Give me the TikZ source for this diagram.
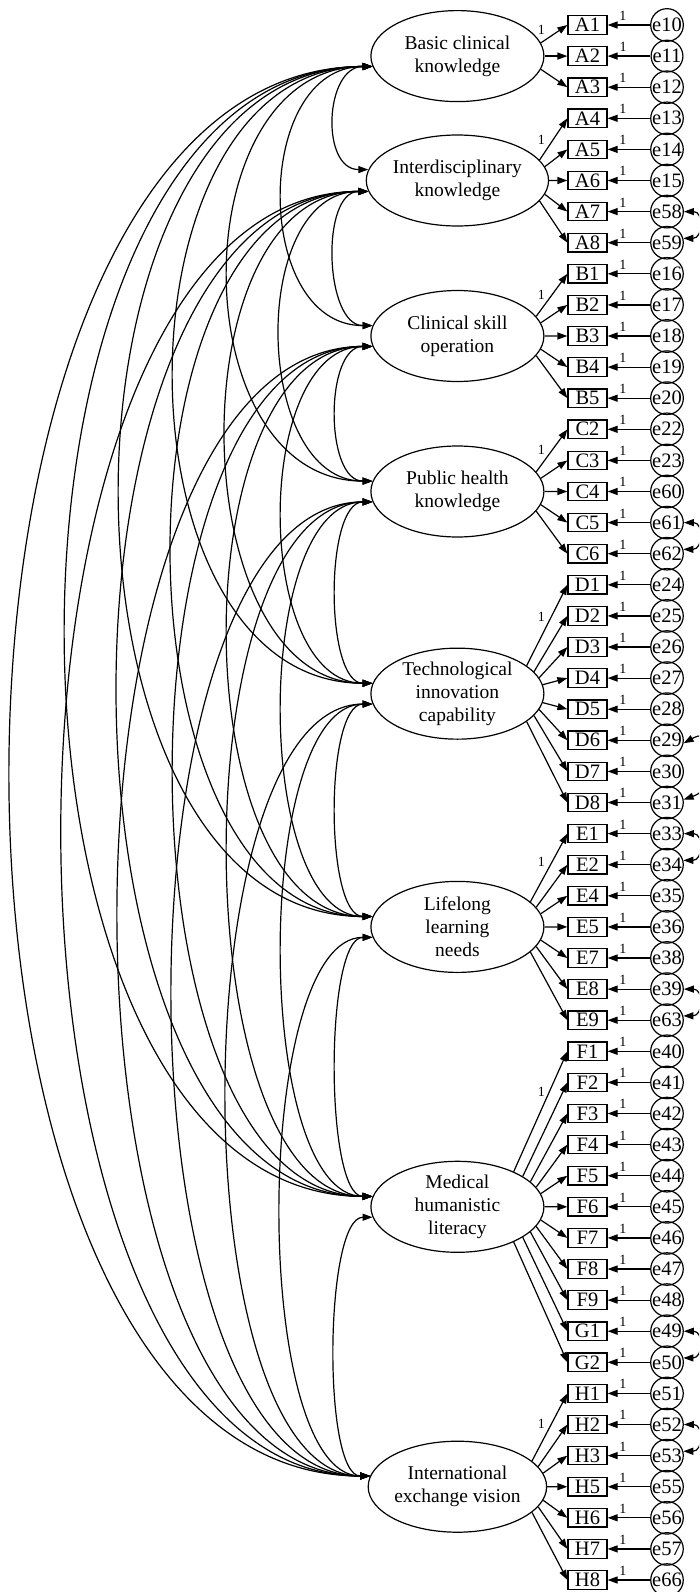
\documentclass[tikz,border=0pt]{standalone}
\usepackage{fontspec}
\setmainfont{Liberation Serif}
\usetikzlibrary{arrows.meta,calc,shapes.geometric}
\begin{document}
\begin{tikzpicture}[x=1pt,y=1pt,
  >={Triangle[length=10pt,width=7pt]},
  lat/.style={draw, ellipse, line width=1.2pt, minimum width=173pt, minimum height=91pt, inner sep=0pt, align=center, font=\fontsize{19.5}{23}\selectfont},
  ind/.style={draw, rectangle, line width=1.2pt, minimum width=39pt, minimum height=18.5pt, inner sep=0pt, font=\fontsize{20.5}{20}\selectfont},
  err/.style={draw, circle, line width=1.2pt, minimum size=30pt, inner sep=0pt, font=\fontsize{20.5}{20}\selectfont},
  load/.style={line width=1.2pt, ->},
  cov/.style={line width=1.2pt, <->},
  lbl/.style={inner sep=0pt, font=\fontsize{14}{14}\selectfont}]
\useasboundingbox (0,0) rectangle (699,-1592);
\clip (0,0) rectangle (699,-1592);

% latent factors
\node[lat] (L1) at (457.4,-56.1)  {Basic clinical\\knowledge};
\node[lat] (L2) at (457.4,-180.5) {Interdisciplinary\\knowledge};
\node[lat] (L3) at (457.4,-336)   {Clinical skill\\operation};
\node[lat] (L4) at (457.4,-491.5) {Public health\\knowledge};
\node[lat] (L5) at (457.4,-693.65){Technological\\innovation\\capability};
\node[lat] (L6) at (457.4,-926.9) {Lifelong\\learning\\needs};
\node[lat] (L7) at (457.4,-1206.8){Medical\\humanistic\\literacy};
\node[lat] (L8) at (457.4,-1486.7){International\\exchange vision};

% indicators and errors
\foreach \n/\e [count=\i from 0] in {A1/e10, A2/e11, A3/e12, A4/e13, A5/e14, A6/e15, A7/e58, A8/e59, B1/e16, B2/e17, B3/e18, B4/e19, B5/e20, C2/e22, C3/e23, C4/e60, C5/e61, C6/e62, D1/e24, D2/e25, D3/e26, D4/e27, D5/e28, D6/e29, D7/e30, D8/e31, E1/e33, E2/e34, E4/e35, E5/e36, E7/e38, E8/e39, E9/e63, F1/e40, F2/e41, F3/e42, F4/e43, F5/e44, F6/e45, F7/e46, F8/e47, F9/e48, G1/e49, G2/e50, H1/e51, H2/e52, H3/e53, H5/e55, H6/e56, H7/e57, H8/e66}{
  \pgfmathsetmacro\yy{-(25+31.1*\i)}
  \node[ind, alias=b\i] (\n) at (587.5,\yy) {\n};
  \node[err] (\e) at (667,\yy) {\e};
  \draw[load] (\e) -- node[lbl, pos=0.64, above=4pt] {1} (\n);
}

% loadings
\foreach \f/\c/\a/\b/\lof in {L1/1/0/2/5, L2/5/3/7/22, L3/10/8/12/21, L4/15/13/17/21, L5/21.5/18/25/32, L6/29/26/32/28, L7/38/33/43/41, L8/47/44/50/30}{
  \foreach \i in {\a,...,\b}{
    \pgfmathsetmacro\off{31.1*(\c-\i)}
    \pgfmathsetmacro\tang{ifthenelse(abs(\off)<1,0,ifthenelse(\off>0,1,-1)*(8+0.27*abs(\off)))}
    \pgfmathtruncatemacro\ang{mod(round(atan(0.5248*tan(\tang)))+360,360)}
    \draw[load] (\f.\ang) -- (b\i.west);
  }
  \node[lbl] at ($(b\a.west)+(-26,-\lof)$) {1};
}

% factor covariances
\foreach \i in {1,...,7}{
  \pgfmathtruncatemacro\ia{\i+1}
  \foreach \j in {\ia,...,8}{
    \pgfmathsetmacro\D{48+72*(\j-\i-1)}
    \draw[cov] (L\i.187) .. controls +(-\D,0) and +(-\D,0) .. (L\j.173);
  }
}

% error covariances
\draw[cov] (e58.0) .. controls +(20,0) and +(20,0) .. (e59.15);
\draw[cov] (e61.0) .. controls +(20,0) and +(20,0) .. (e62.15);
\draw[cov] (e33.0) .. controls +(20,0) and +(20,0) .. (e34.15);
\draw[cov] (e39.0) .. controls +(20,0) and +(20,0) .. (e63.15);
\draw[cov] (e49.0) .. controls +(20,0) and +(20,0) .. (e50.15);
\draw[cov] (e52.0) .. controls +(20,0) and +(20,0) .. (e53.15);
\draw[cov] (e29.350) .. controls +(40,22) and +(40,14) .. (e31.10);
\end{tikzpicture}
\end{document}
